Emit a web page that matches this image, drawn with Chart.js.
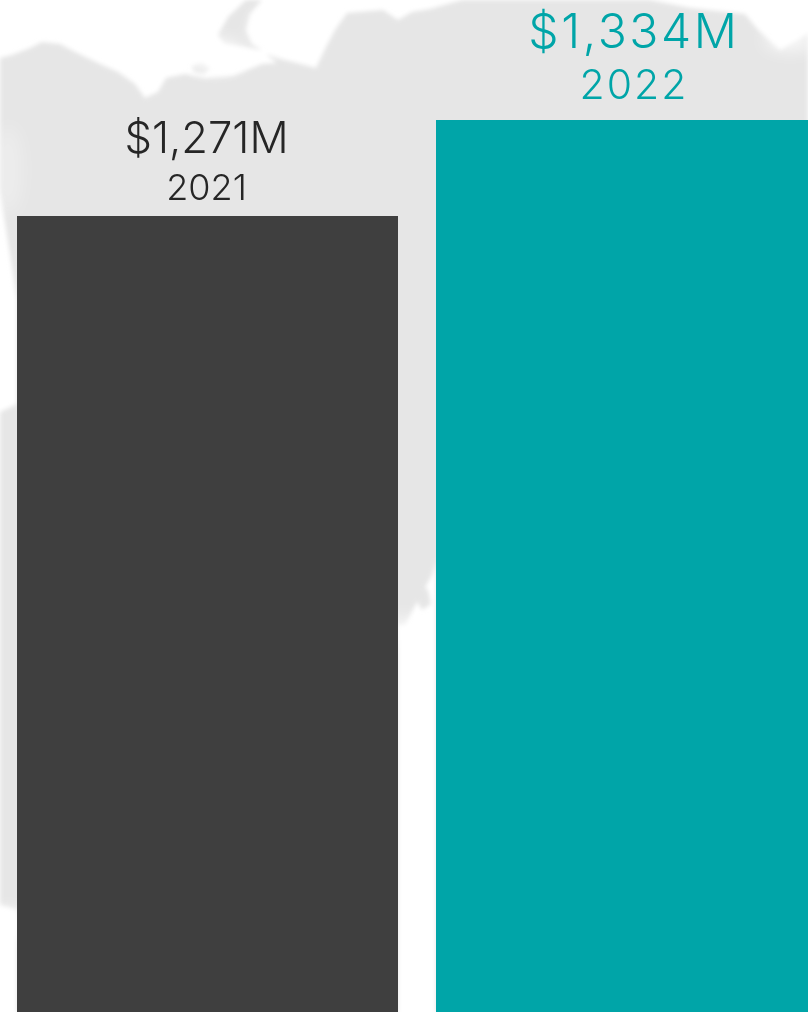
<!DOCTYPE html>
<html><head><meta charset="utf-8">
<style>
html,body{margin:0;padding:0;background:#fff;width:808px;height:1012px;overflow:hidden}
#map{position:absolute;left:0;top:0}
#wrap{position:absolute;left:-2px;top:0;width:838px;height:1012px}
</style>
<script src="https://cdn.jsdelivr.net/npm/chart.js@4/dist/chart.umd.min.js"></script>
</head><body>
<svg id="map" width="808" height="1012" viewBox="0 0 808 1012">
<defs>
<filter id="b" x="-10%" y="-10%" width="120%" height="120%"><feGaussianBlur stdDeviation="2.2"/></filter>
<filter id="b2" x="-50%" y="-50%" width="200%" height="200%"><feGaussianBlur stdDeviation="9"/></filter>
</defs>
<g filter="url(#b)" fill="#e6e6e6">
<path d="M0,58 L12,55 30,48 42,42 60,44 75,52 100,64 118,72 135,84 145,98 158,92 166,78 185,74 205,78 233,76 262,64 277,63 266,54 285,60 316,68 326,47 335,30 347,13 383,10 398,20 412,12 430,9 462,0 650,0 690,8 745,14 758,30 780,50 808,34 808,1012 436,1012 436,560 432,575 418,600 405,625 398,625 398,1012 17,1012 17,910 0,905 0,412 17,404 17,300 0,190 Z"/>
<path d="M218,35 L228,17 246,0 262,0 250,14 246,30 252,44 262,50 240,46 224,44 Z"/>
<path d="M192,66 L202,62 210,68 204,74 194,72 Z"/>
<path d="M414,596 L420,584 428,590 431,604 422,610 Z"/>
</g>
<g filter="url(#b2)" fill="#fff">
<ellipse cx="285" cy="28" rx="32" ry="20"/>
<ellipse cx="215" cy="55" rx="28" ry="14"/>
<ellipse cx="8" cy="170" rx="14" ry="45" opacity=".3"/>
<ellipse cx="405" cy="632" rx="18" ry="14" opacity=".8"/>
<ellipse cx="8" cy="925" rx="18" ry="14"/>
<ellipse cx="790" cy="40" rx="26" ry="10" opacity=".8"/>
</g>
</svg>
<div id="wrap"><canvas id="c" width="838" height="1012"></canvas></div>
<script>
const categories = ["2021", "2022"];
const revenue = [1271, 1334];
const valueLabels = ["$1,271M", "$1,334M"];
const barColors = ["#3f3f3f", "#00a5a8"];
const labelColors = ["#262626", "#00a5a8"];
const axisMin = 748.6;
const axisMax = 1412.75;

const labelPlugin = {
  id: "barLabels",
  afterDatasetsDraw(chart) {
    const ctx = chart.ctx;
    const styles = [
      {dx: -1, main: "300 43.5px", sub: "300 36px", mainUp: 63, subUp: 16, ls: "0px", ls2: "0px"},
      {dx: 7.5, main: "300 48px", sub: "300 41px", mainUp: 72, subUp: 21, ls: "2.6px", ls2: "2px"}
    ];
    chart.getDatasetMeta(0).data.forEach((bar, i) => {
      const s = styles[i];
      ctx.save();
      ctx.fillStyle = labelColors[i];
      ctx.textAlign = "center";
      ctx.textBaseline = "alphabetic";
      const fam = ' "Inter", "Liberation Sans", sans-serif';
      ctx.font = s.main + fam;
      ctx.letterSpacing = s.ls;
      ctx.fillText(valueLabels[i], bar.x + s.dx, bar.y - s.mainUp);
      ctx.font = s.sub + fam;
      ctx.letterSpacing = s.ls2;
      ctx.fillText(categories[i], bar.x + s.dx, bar.y - s.subUp);
      ctx.restore();
    });
  }
};

new Chart(document.getElementById("c"), {
  type: "bar",
  data: {
    labels: categories,
    datasets: [{data: revenue, backgroundColor: barColors, borderWidth: 0,
      barPercentage: 381 / 419, categoryPercentage: 1}]
  },
  options: {
    responsive: false,
    animation: false,
    layout: {padding: 0},
    plugins: {legend: {display: false}, tooltip: {enabled: false}},
    scales: {
      x: {display: false},
      y: {display: false, min: axisMin, max: axisMax}
    }
  },
  plugins: [labelPlugin]
});
</script>
</body></html>
